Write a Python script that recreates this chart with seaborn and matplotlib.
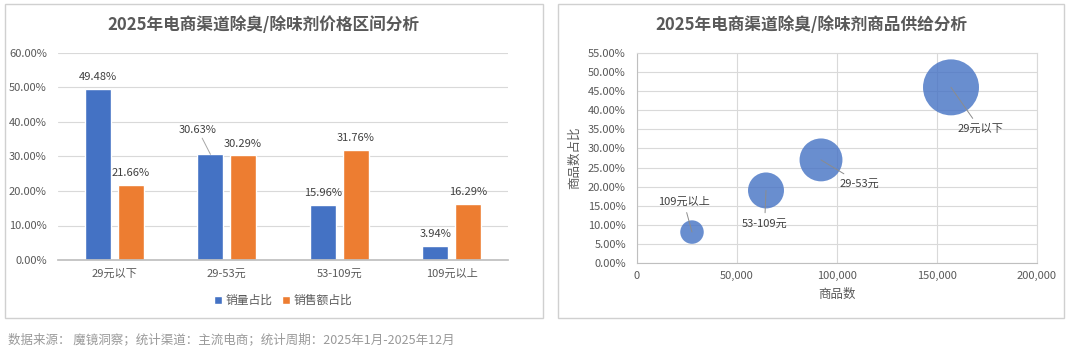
import matplotlib
matplotlib.use("Agg")
import matplotlib.pyplot as plt
from matplotlib.patches import Rectangle
from matplotlib.ticker import FuncFormatter
import seaborn as sns
import pandas as pd

# bar chart data (percent)
price_bands = ["29元以下", "29-53元", "53-109元", "109元以上"]
volume_share = [49.48, 30.63, 15.96, 3.94]
sales_share = [21.66, 30.29, 31.76, 16.29]
series_names = ["销量占比", "销售额占比"]

# bubble chart data
item_counts = [157000, 92000, 64500, 27500]
item_share = [46.0, 27.0, 19.0, 8.1]

sns.set_theme(style="white")
plt.rcParams["font.family"] = ["Noto Sans CJK SC", "DejaVu Sans"]

TXT = "#595959"
GRID = "#d9d9d9"
BLUE = "#4472C4"
ORANGE = "#ED7D31"

W, H = 1080, 357
fig = plt.figure(figsize=(W / 100, H / 100), dpi=100)

# panel frames
for x0, x1 in [(5, 543), (558, 1064)]:
    fig.add_artist(Rectangle((x0 / W, 1 - 318 / H), (x1 - x0) / W, 314 / H,
                             transform=fig.transFigure, fill=False,
                             edgecolor="#d0d0d0", lw=1))

# ---------- left: bar chart ----------
df = pd.DataFrame({
    "band": price_bands * 2,
    "share": volume_share + sales_share,
    "series": [series_names[0]] * 4 + [series_names[1]] * 4,
})
ax1 = fig.add_axes([58 / W, 1 - 260 / H, 450 / W, 207 / H])
sns.barplot(data=df, x="band", y="share", hue="series", order=price_bands,
            hue_order=series_names, palette=[BLUE, ORANGE], width=0.58, gap=0.2,
            saturation=1, ax=ax1)
ax1.set_ylim(0, 60)
ax1.set_yticks(range(0, 61, 10))
ax1.yaxis.set_major_formatter(FuncFormatter(lambda v, p: f"{v:.2f}%"))
ax1.grid(axis="y", color=GRID, lw=0.8)
ax1.set_axisbelow(True)
for s in ["top", "right", "left"]:
    ax1.spines[s].set_visible(False)
ax1.spines["bottom"].set_color("#bfbfbf")
ax1.set_xlabel("")
ax1.set_ylabel("")
ax1.tick_params(axis="both", colors=TXT, labelsize=8, length=0)
ax1.tick_params(axis="x", pad=6)
ax1.tick_params(axis="y", pad=8)
ax1.set_xlim(-0.5, 3.5)

for i, cont in enumerate(ax1.containers):
    labels = []
    for j, bar in enumerate(cont):
        v = bar.get_height()
        if i == 0 and j == 1:
            # this label sits off to the side with a leader line
            labels.append("")
            ax1.annotate(f"{v:.2f}%", xy=(bar.get_x() + bar.get_width() / 2, v),
                         xytext=(-9, 14), textcoords="offset points",
                         ha="center", va="bottom", fontsize=8, color="#404040",
                         arrowprops=dict(arrowstyle="-", color="#a6a6a6", lw=0.7,
                                         shrinkA=0, shrinkB=0))
        else:
            labels.append(f"{v:.2f}%")
    ax1.bar_label(cont, labels=labels, padding=5, fontsize=8, color="#404040")

leg = ax1.legend(loc="center", bbox_to_anchor=(0.5, -0.195), ncol=2, frameon=False,
                 handlelength=0.7, handleheight=0.7, columnspacing=0.8,
                 handletextpad=0.3, fontsize=8.5)
for t in leg.get_texts():
    t.set_color(TXT)

fig.text(263 / W, 1 - 25 / H, "2025年电商渠道除臭/除味剂价格区间分析",
         ha="center", va="center", fontsize=12, fontweight="bold", color=TXT)

# ---------- right: bubble chart ----------
bub = pd.DataFrame({"band": price_bands, "count": item_counts, "share": item_share})
ax2 = fig.add_axes([637 / W, 1 - 263 / H, 400 / W, 210 / H])
sns.scatterplot(data=bub, x="count", y="share", size="share", sizes=(0, 1625),
                size_norm=(0, 46.0), color=BLUE, alpha=0.8, edgecolor="none",
                legend=False, ax=ax2)
ax2.set_xlim(0, 200000)
ax2.set_ylim(0, 55)
ax2.set_xticks(range(0, 200001, 50000))
ax2.set_yticks(range(0, 56, 5))
ax2.xaxis.set_major_formatter(FuncFormatter(lambda v, p: f"{int(v):,}"))
ax2.yaxis.set_major_formatter(FuncFormatter(lambda v, p: f"{v:.2f}%"))
ax2.grid(True, color=GRID, lw=0.8)
ax2.set_axisbelow(True)
for s in ax2.spines.values():
    s.set_color(GRID)
    s.set_linewidth(0.8)
ax2.spines["left"].set_color("#bfbfbf")
ax2.spines["bottom"].set_color("#bfbfbf")
ax2.tick_params(axis="both", colors=TXT, labelsize=8, length=0)
ax2.tick_params(axis="x", pad=6)
ax2.tick_params(axis="y", pad=8)
ax2.set_xlabel("商品数", fontsize=9, color=TXT, labelpad=5)
ax2.set_ylabel("商品数占比", fontsize=9, color=TXT, labelpad=5)

offsets = [(21, -30), (28, -17), (-1, -24), (-6, 22)]
for band, cx, cy, off in zip(price_bands, item_counts, item_share, offsets):
    ax2.annotate(band, xy=(cx, cy), xytext=off, textcoords="offset points",
                 ha="center", va="center", fontsize=8, color="#404040",
                 arrowprops=dict(arrowstyle="-", color="#8c8c8c", lw=0.7,
                                 shrinkA=2, shrinkB=0))

fig.text(811 / W, 1 - 25 / H, "2025年电商渠道除臭/除味剂商品供给分析",
         ha="center", va="center", fontsize=12, fontweight="bold", color=TXT)

# footer
fig.text(8 / W, 1 - 340 / H,
         "数据来源： 魔镜洞察；统计渠道：主流电商；统计周期：2025年1月-2025年12月",
         ha="left", va="center", fontsize=9, color="#999999")

fig.savefig("out.png", dpi=100, facecolor="white")
